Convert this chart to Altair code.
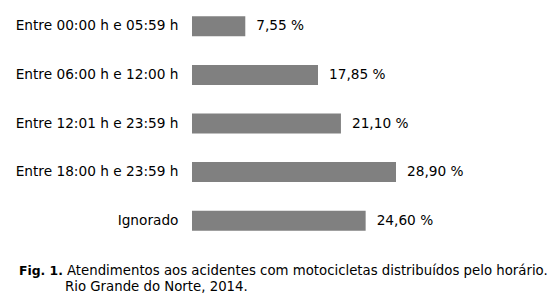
import altair as alt
import pandas as pd

categories = [
    "Entre 00:00 h e 05:59 h",
    "Entre 06:00 h e 12:00 h",
    "Entre 12:01 h e 23:59 h",
    "Entre 18:00 h e 23:59 h",
    "Ignorado",
]
values = [7.55, 17.85, 21.10, 28.90, 24.60]
value_labels = ["7,55 %", "17,85 %", "21,10 %", "28,90 %", "24,60 %"]

caption_bold = "Fig. 1."
caption_line1 = "Atendimentos aos acidentes com motocicletas distribuídos pelo horário."
caption_line2 = "Rio Grande do Norte, 2014."

df = pd.DataFrame({"cat": categories, "val": values, "lab": value_labels})

FONT = "DejaVu Sans"
CAP = 13.3

y = alt.Y(
    "cat:N",
    sort=categories,
    title=None,
    scale=alt.Scale(paddingInner=0, paddingOuter=0),
    axis=alt.Axis(
        domain=False,
        ticks=False,
        labelPadding=14,
        labelFontSize=13.7,
        labelColor="#000000",
        labelFont=FONT,
        labelLimit=300,
    ),
)
x = alt.X(
    "val:Q",
    title=None,
    scale=alt.Scale(domain=[0, 42.5], nice=False),
    axis=None,
)

base = alt.Chart(df)
bars = base.mark_bar(size=20, color="#808080").encode(x=x, y=y)
labels = base.mark_text(
    align="left", baseline="middle", dx=11, fontSize=13.7, font=FONT, color="#000000"
).encode(x=x, y=y, text="lab:N")

cap1 = alt.Chart(pd.DataFrame({"t": [caption_bold]})).mark_text(
    align="left", baseline="middle", fontSize=12.4, font=FONT, fontWeight="bold", color="#000000"
).encode(x=alt.value(-173), y=alt.value(269), text="t:N")
cap2 = alt.Chart(pd.DataFrame({"t": [caption_line1]})).mark_text(
    align="left", baseline="middle", fontSize=CAP, font=FONT, color="#000000"
).encode(x=alt.value(-125), y=alt.value(269), text="t:N")
cap3 = alt.Chart(pd.DataFrame({"t": [caption_line2]})).mark_text(
    align="left", baseline="middle", fontSize=CAP, font=FONT, color="#000000"
).encode(x=alt.value(-127), y=alt.value(285), text="t:N")

chart = (
    alt.layer(bars, labels, cap1, cap2, cap3)
    .properties(
        width=300,
        height=243,
        autosize=alt.AutoSizeParams(type="none"),
        padding={"left": 192, "top": 2, "right": 64, "bottom": 61},
        background="#ffffff",
    )
    .configure_view(stroke=None)
)

chart.save("out.html", embed_options={"renderer": "svg", "actions": False})
